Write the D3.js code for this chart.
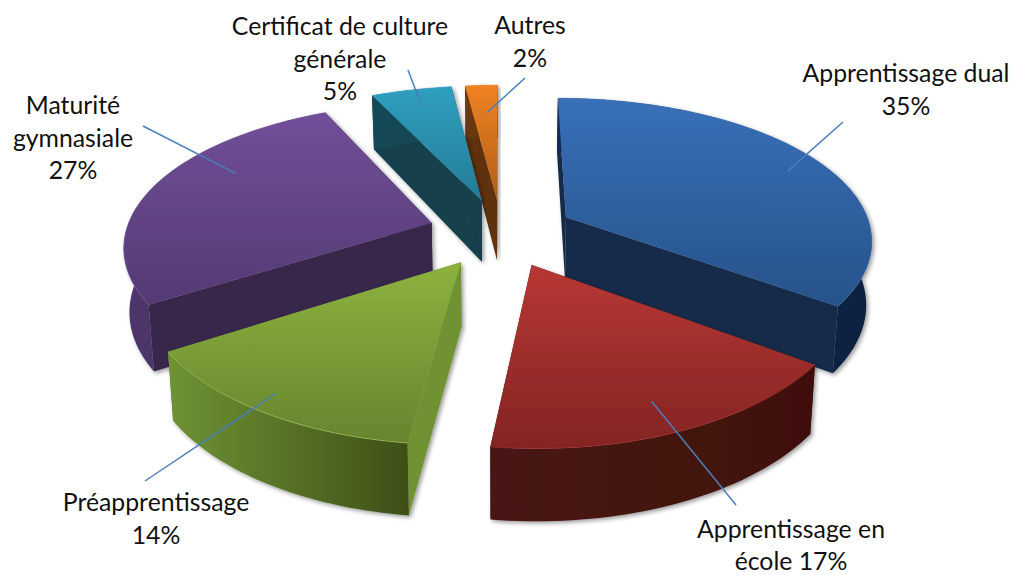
<!DOCTYPE html>
<html>
<head>
<meta charset="utf-8">
<script src="https://cdn.jsdelivr.net/npm/d3@7"></script>
<style>
  html, body { margin: 0; padding: 0; background: #fff; }
  text { font-family: Lato, "Open Sans", sans-serif; font-size: 24.8px; fill: #111; }
</style>
</head>
<body>
<div id="wrapper"></div>
<script>
// donnees
const categories = ["Apprentissage dual", "Apprentissage en école", "Préapprentissage", "Maturité gymnasiale", "Certificat de culture générale", "Autres"];
const shares = [35, 17, 14, 27, 5, 2];

// lignes des etiquettes, telles qu'elles sont coupees
const labelLines = [
    ["Apprentissage dual", "35%"],
    ["Apprentissage en", "école 17%"],
    ["Préapprentissage", "14%"],
    ["Maturité", "gymnasiale", "27%"],
    ["Certificat de culture", "générale", "5%"],
    ["Autres", "2%"]
];

// couleurs par part
const topLight = ["#3870b8", "#b83734", "#8db23f", "#714f98", "#2f9fbf", "#f08223"];
const topDark = ["#27528a", "#832423", "#66852e", "#533a73", "#257c95", "#b05f18"];
const sideWall = ["#152a49", "#3f1110", "#6f9232", "#38254b", "#123f4c", "#5f320f"];
const rimLeft = ["#142c4e", "#481412", "#6f9334", "#4e356c", "#164a59", "#6c3a12"];
const rimRight = ["#0e2340", "#401110", "#3e4f18", "#452e60", "#123f4c", "#5f320f"];
const rimGlow = ["#3f74b8", "#a83432", "#a6c95a", "#775a9c", "#4db3d0", "#f7a050"];

const width = 1013, height = 575;
const geo = {
    cx: 501.5, cy: 232.5,
    radius: 300,     // rayon monde
    explode: 72,     // ecartement des parts
    ry: 142.5,       // ecrasement vertical
    persp: 0.16,     // perspective loin / pres
    perspX: 0.145,
    kx: 1.02,
    depth: 63, depthVar: 8,
    bottomShrink: 0.985
};

// peint du fond vers l'avant
const drawOrder = [5, 4, 0, 3, 1, 2];

// ancrage des etiquettes et du trait de rappel
const labelX = [906, 791, 156, 73, 340, 530];
const labelY = [82, 537.5, 511, 114, 35, 34];
const lineHeight = 32.5;
const leaderOut = [[843, 122], [736, 505], [145, 481], [143, 126], [408, 70], [525, 78]];
const leaderReach = [0.86, 0.84, 0.91, 0.79, 0.83, 0.735];
const leaderTurn = [2.7, 0.7, 1.5, 12.3, 0, 0.6];

const svg = d3.select("#wrapper").append("svg")
    .attr("width", width)
    .attr("height", height)
    .style("display", "block");

const defs = svg.append("defs");

const shadow = defs.append("filter")
    .attr("id", "soft")
    .attr("x", "-10%").attr("y", "-10%")
    .attr("width", "120%").attr("height", "120%");
shadow.append("feDropShadow")
    .attr("dx", 2).attr("dy", 2)
    .attr("stdDeviation", 2)
    .attr("flood-color", "#000")
    .attr("flood-opacity", 0.4);

categories.forEach((c, i) => {
    const g1 = defs.append("linearGradient")
        .attr("id", "top" + i)
        .attr("x1", 0).attr("y1", 0).attr("x2", 0).attr("y2", 1);
    g1.append("stop").attr("offset", 0).attr("stop-color", topLight[i]);
    g1.append("stop").attr("offset", 1).attr("stop-color", topDark[i]);

    const g2 = defs.append("linearGradient")
        .attr("id", "rim" + i)
        .attr("x1", 0).attr("y1", 0).attr("x2", 1).attr("y2", 0);
    g2.append("stop").attr("offset", 0).attr("stop-color", rimLeft[i]);
    g2.append("stop").attr("offset", 1).attr("stop-color", rimRight[i]);
});

const pie = d3.pie().sort(null).startAngle(0).endAngle(2 * Math.PI);
const slices = pie(shares);

// point de la part i, a la fraction f du rayon, angle a (0 = fond, sens horaire)
function project(i, f, a) {
    const s = slices[i];
    const mid = (s.startAngle + s.endAngle) / 2;
    const X = geo.explode * Math.sin(mid) + f * geo.radius * Math.sin(a);
    const Y = geo.explode * Math.cos(mid) + f * geo.radius * Math.cos(a);
    const v = Y / geo.radius;
    return {
        x: geo.cx + X * geo.kx / (1 + geo.perspX * v),
        y: geo.cy - geo.ry * v / (1 + geo.persp * v),
        v: v
    };
}

// meme point, sur la face du bas
function lower(p) {
    return {
        x: geo.cx + (p.x - geo.cx) * geo.bottomShrink,
        y: p.y + geo.depth - geo.depthVar * p.v
    };
}

const line = d3.line().x(d => d.x).y(d => d.y);

drawOrder.forEach(i => {
    const s = slices[i];
    const steps = Math.max(6, Math.round((s.endAngle - s.startAngle) * 40));
    const arc = d3.range(steps + 1)
        .map(k => project(i, 1, s.startAngle + (s.endAngle - s.startAngle) * k / steps));
    const apex = project(i, 0, 0);
    const g = svg.append("g").attr("filter", "url(#soft)");

    // parois radiales
    [arc[0], arc[steps]].forEach(p => {
        g.append("path")
            .attr("d", line([apex, p, lower(p), lower(apex)]) + "Z")
            .attr("fill", sideWall[i]);
    });

    // paroi exterieure
    g.append("path")
        .attr("d", line(arc.concat(arc.map(lower).reverse())) + "Z")
        .attr("fill", `url(#rim${i})`);

    // dessus
    g.append("path")
        .attr("d", line([apex].concat(arc)) + "Z")
        .attr("fill", `url(#top${i})`);

    // liseré clair sur le bord
    g.append("path")
        .attr("d", line(arc))
        .attr("fill", "none")
        .attr("stroke", rimGlow[i])
        .attr("stroke-width", 1)
        .attr("stroke-opacity", 0.6);
});

// traits de rappel
categories.forEach((c, i) => {
    const s = slices[i];
    const a = (s.startAngle + s.endAngle) / 2 + leaderTurn[i] * Math.PI / 180;
    const inner = project(i, leaderReach[i], a);
    svg.append("line")
        .attr("x1", inner.x).attr("y1", inner.y)
        .attr("x2", leaderOut[i][0]).attr("y2", leaderOut[i][1])
        .attr("stroke", "#4a7ebb")
        .attr("stroke-width", 1.5);
});

// etiquettes
labelLines.forEach((lines, i) => {
    const t = svg.append("text")
        .attr("text-anchor", "middle");
    lines.forEach((l, k) => {
        t.append("tspan")
            .attr("x", labelX[i])
            .attr("y", labelY[i] + k * lineHeight)
            .text(l);
    });
});
</script>
</body>
</html>
